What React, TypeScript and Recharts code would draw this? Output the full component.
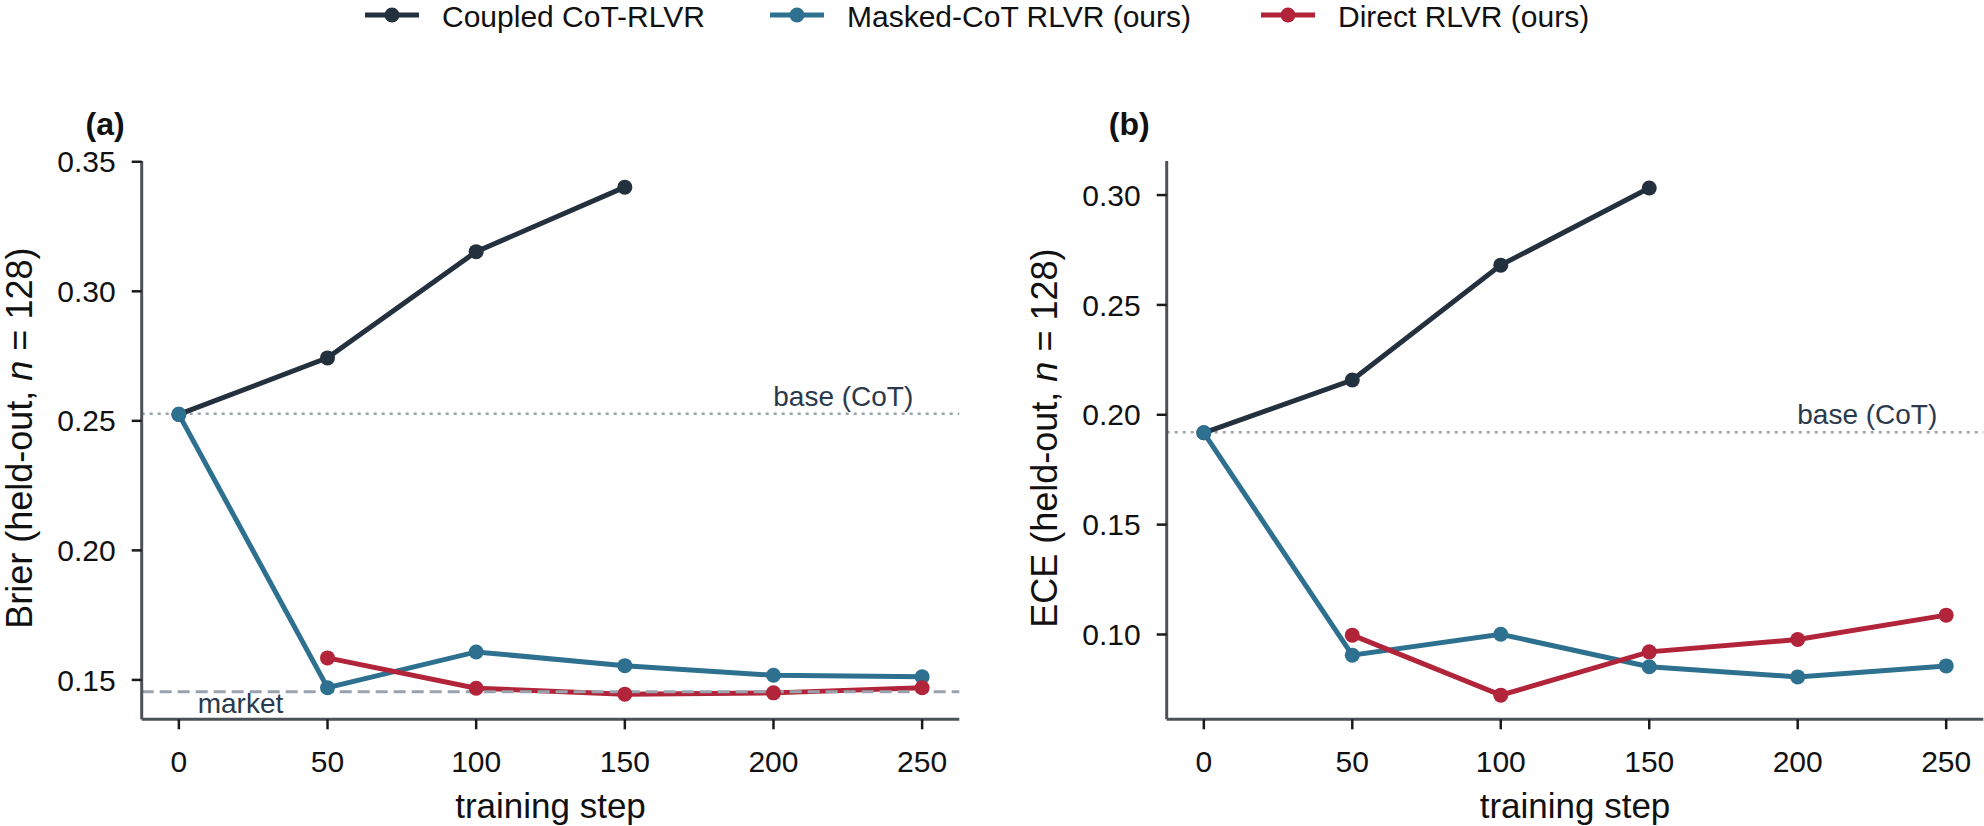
import React from 'react';
import { LineChart, Line, XAxis, YAxis, ReferenceLine } from 'recharts';

const FONT = '"Liberation Sans", Arial, Helvetica, sans-serif';

const steps = [0, 50, 100, 150, 200, 250];
const xTicks = [0, 50, 100, 150, 200, 250];

const brierCoupled = [0.2525, 0.2743, 0.3153, 0.3402, null, null];
const brierMasked = [0.2525, 0.147, 0.1608, 0.1555, 0.1518, 0.1512];
const brierDirect = [null, 0.1585, 0.1468, 0.1445, 0.145, 0.147];
const brierBase = 0.2527;
const brierMarket = 0.1454;
const brierTicks = [0.15, 0.2, 0.25, 0.3, 0.35];
const brierDomain = [0.1348, 0.3503];

const eceCoupled = [0.1918, 0.2158, 0.2681, 0.3032, null, null];
const eceMasked = [0.1918, 0.0906, 0.1001, 0.0853, 0.0807, 0.0857];
const eceDirect = [null, 0.0997, 0.0724, 0.0921, 0.0977, 0.1088];
const eceBase = 0.192;
const eceTicks = [0.1, 0.15, 0.2, 0.25, 0.3];
const eceDomain = [0.0614, 0.3155];

const seriesNames = ['Coupled CoT-RLVR', 'Masked-CoT RLVR (ours)', 'Direct RLVR (ours)'];
const seriesColors = ['#23303e', '#2e708f', '#b2243a'];

const COLOR_REF = '#9aa3ad';
const COLOR_ANN = '#2a3a4c';
const COLOR_SPINE = '#4d5258';

const brierData = steps.map((s, i) => ({
  step: s,
  coupled: brierCoupled[i],
  masked: brierMasked[i],
  direct: brierDirect[i],
}));
const eceData = steps.map((s, i) => ({
  step: s,
  coupled: eceCoupled[i],
  masked: eceMasked[i],
  direct: eceDirect[i],
}));

type PanelProps = {
  data: any[];
  domain: number[];
  ticks: number[];
  yPrefix: string;
  title: string;
  base: number;
  market?: number;
  left: number;
  width: number;
  marginRight: number;
};

function Panel({ data, domain, ticks, yPrefix, title, base, market, left, width, marginRight }: PanelProps) {
  const yLabel = (props: any) => {
    const vb = props.viewBox || {};
    const cx = vb.x + 32;
    const cy = vb.y + vb.height / 2 - 2;
    return (
      <g>
        <text
          x={cx}
          y={cy}
          transform={`rotate(-90, ${cx}, ${cy})`}
          textAnchor="middle"
          fontSize={36}
          fontFamily={FONT}
          fill="#111"
        >
          {yPrefix}
          <tspan fontStyle="italic">n</tspan>
          {' = 128)'}
        </text>
        <text
          x={vb.x + vb.width - 17}
          y={vb.y - 26}
          textAnchor="end"
          fontSize={32}
          fontWeight="bold"
          fontFamily={FONT}
          fill="#111"
        >
          {title}
        </text>
      </g>
    );
  };
  const xLabel = (props: any) => {
    const vb = props.viewBox || {};
    return (
      <text
        x={vb.x + vb.width / 2}
        y={vb.y + 98.5}
        textAnchor="middle"
        fontSize={35}
        fontFamily={FONT}
        fill="#111"
      >
        training step
      </text>
    );
  };
  const baseLabel = (props: any) => {
    const vb = props.viewBox || {};
    return (
      <text
        x={vb.x + vb.width - 46}
        y={vb.y - 8}
        textAnchor="end"
        fontSize={28}
        fontFamily={FONT}
        fill={COLOR_ANN}
      >
        base (CoT)
      </text>
    );
  };
  const marketLabel = (props: any) => {
    const vb = props.viewBox || {};
    return (
      <g>
        <rect x={vb.x + 52} y={vb.y + 3} width={94} height={27} fill="#fff" />
        <text
          x={vb.x + 56}
          y={vb.y + 21}
          textAnchor="start"
          fontSize={28}
          fontFamily={FONT}
          fill={COLOR_ANN}
        >
          market
        </text>
      </g>
    );
  };

  return (
    <div style={{ position: 'absolute', left, top: 0 }}>
      <LineChart
        width={width}
        height={826}
        data={data}
        margin={{ top: 161, right: marginRight, left: 0, bottom: 0 }}
      >
        <XAxis
          dataKey="step"
          type="number"
          domain={[-12.5, 262.5]}
          ticks={xTicks}
          interval={0}
          allowDataOverflow
          height={106.7}
          axisLine={{ stroke: COLOR_SPINE, strokeWidth: 3 }}
          tickLine={{ stroke: '#1a1a1a', strokeWidth: 2.5 }}
          tickSize={10}
          tickMargin={21}
          tick={{ fontSize: 30, fill: '#111', fontFamily: FONT }}
          label={xLabel}
        />
        <YAxis
          type="number"
          domain={domain}
          ticks={ticks}
          interval={0}
          allowDataOverflow
          width={141.7}
          axisLine={{ stroke: COLOR_SPINE, strokeWidth: 3 }}
          tickLine={{ stroke: '#1a1a1a', strokeWidth: 2.5 }}
          tickSize={10}
          tickMargin={16}
          tick={{ fontSize: 30, fill: '#111', fontFamily: FONT }}
          tickFormatter={(v: number) => v.toFixed(2)}
          label={yLabel}
        />
        <ReferenceLine
          y={base}
          stroke={COLOR_REF}
          strokeWidth={2.5}
          strokeDasharray="3 5"
          label={baseLabel}
        />
        <Line
          dataKey="coupled"
          stroke={seriesColors[0]}
          strokeWidth={5}
          dot={{ r: 7.5, fill: seriesColors[0], stroke: seriesColors[0], strokeWidth: 0 }}
          activeDot={false}
          connectNulls={false}
          isAnimationActive={false}
        />
        <Line
          dataKey="masked"
          stroke={seriesColors[1]}
          strokeWidth={5}
          dot={{ r: 7.5, fill: seriesColors[1], stroke: seriesColors[1], strokeWidth: 0 }}
          activeDot={false}
          connectNulls={false}
          isAnimationActive={false}
        />
        <Line
          dataKey="direct"
          stroke={seriesColors[2]}
          strokeWidth={5}
          dot={{ r: 7.5, fill: seriesColors[2], stroke: seriesColors[2], strokeWidth: 0 }}
          activeDot={false}
          connectNulls={false}
          isAnimationActive={false}
        />
        {market !== undefined && (
          <ReferenceLine
            y={market}
            stroke={COLOR_REF}
            strokeWidth={3}
            strokeDasharray="12 6"
            label={marketLabel}
          />
        )}
      </LineChart>
    </div>
  );
}

function LegendBar() {
  const centers = [392, 797, 1288];
  return (
    <svg width={1984} height={45} style={{ position: 'absolute', left: 0, top: 0 }}>
      {seriesNames.map((name, i) => (
        <g key={name}>
          <line x1={centers[i] - 27} x2={centers[i] + 27} y1={15} y2={15} stroke={seriesColors[i]} strokeWidth={5} />
          <circle cx={centers[i]} cy={15} r={7.5} fill={seriesColors[i]} />
          <text x={centers[i] + 50} y={27} fontSize={30} fontFamily={FONT} fill="#111">
            {name}
          </text>
        </g>
      ))}
    </svg>
  );
}

export default function App() {
  return (
    <div style={{ position: 'absolute', left: 0, top: 0, width: 1984, height: 826, background: '#fff', overflow: 'hidden' }}>
      <LegendBar />
      <Panel
        data={brierData}
        domain={brierDomain}
        ticks={brierTicks}
        yPrefix="Brier (held-out, "
        title="(a)"
        base={brierBase}
        market={brierMarket}
        left={0}
        width={980}
        marginRight={20.7}
      />
      <Panel
        data={eceData}
        domain={eceDomain}
        ticks={eceTicks}
        yPrefix="ECE (held-out, "
        title="(b)"
        base={eceBase}
        left={1025}
        width={959}
        marginRight={0.7}
      />
    </div>
  );
}
